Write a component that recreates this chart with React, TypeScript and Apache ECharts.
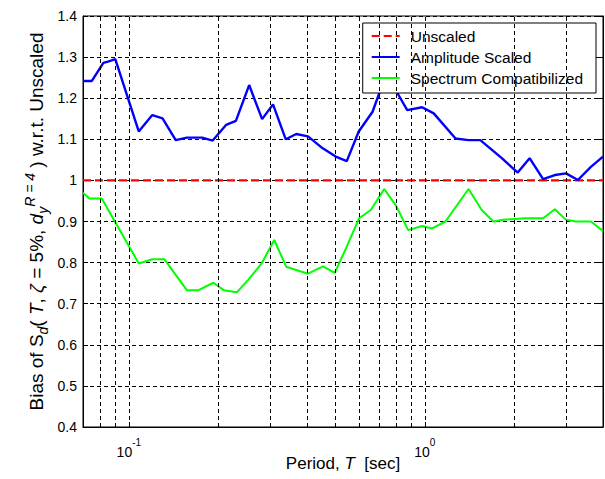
import React, { useEffect, useRef } from 'react';
import * as echarts from 'echarts';

const FONT = "'Liberation Sans', Arial, Helvetica, sans-serif";

// Period grid (vertical dotted lines of the log axis)
const periodGridLines = [0.08, 0.09, 0.1, 0.2, 0.3, 0.4, 0.5, 0.6, 0.7, 0.8, 0.9, 1, 2, 3];

// Unscaled reference
const unscaledPeriods = [0.07, 4];
const unscaledBias = [1, 1];

// Amplitude scaled
const amplitudePeriods = [0.07, 0.075, 0.082, 0.085, 0.09, 0.108, 0.12, 0.13, 0.144, 0.157, 0.177, 0.192, 0.213, 0.23, 0.255, 0.282, 0.307, 0.339, 0.368, 0.403, 0.452, 0.5, 0.545, 0.598, 0.666, 0.729, 0.797, 0.872, 0.979, 1.072, 1.27, 1.405, 1.54, 1.82, 2.06, 2.26, 2.51, 2.75, 3.0, 3.29, 3.64, 4.0];
const amplitudeBias = [1.242, 1.242, 1.286, 1.289, 1.295, 1.119, 1.159, 1.151, 1.098, 1.104, 1.104, 1.097, 1.135, 1.145, 1.232, 1.149, 1.185, 1.1, 1.113, 1.107, 1.078, 1.058, 1.047, 1.119, 1.167, 1.245, 1.22, 1.171, 1.178, 1.163, 1.102, 1.098, 1.098, 1.054, 1.019, 1.054, 1.003, 1.013, 1.017, 1.001, 1.033, 1.058];

// Spectrum compatibilized
const compatPeriods = [0.07, 0.0736, 0.081, 0.108, 0.12, 0.132, 0.144, 0.157, 0.172, 0.193, 0.209, 0.232, 0.253, 0.281, 0.31, 0.34, 0.403, 0.453, 0.496, 0.542, 0.6, 0.657, 0.729, 0.797, 0.879, 0.979, 1.058, 1.174, 1.405, 1.557, 1.704, 1.841, 2.177, 2.51, 2.75, 3.0, 3.244, 3.64, 4.0];
const compatBias = [0.970, 0.956, 0.956, 0.798, 0.808, 0.808, 0.770, 0.733, 0.733, 0.751, 0.733, 0.728, 0.758, 0.798, 0.855, 0.790, 0.773, 0.791, 0.775, 0.835, 0.908, 0.928, 0.979, 0.940, 0.879, 0.889, 0.883, 0.900, 0.979, 0.928, 0.900, 0.904, 0.908, 0.908, 0.930, 0.904, 0.900, 0.900, 0.877];

const yTicks = { min: 0.4, max: 1.4, interval: 0.1 };

const zip = (xs: number[], ys: number[]) => xs.map((x, i) => [x, ys[i]]);

export default function App() {
  const ref = useRef<HTMLDivElement>(null);
  useEffect(() => {
    const chart = echarts.init(ref.current!, null, { renderer: 'svg' });
    const option: any = {
      animation: false,
      backgroundColor: '#fff',
      textStyle: { fontFamily: FONT },
      grid: {
        left: 83, right: 2, top: 16, bottom: 52,
        outerBoundsMode: 'none',
        containLabel: false,
        show: true, borderColor: '#000', borderWidth: 1, backgroundColor: '#fff',
      },
      legend: {
        data: ['Unscaled', 'Amplitude Scaled', 'Spectrum Compatibilized'],
        orient: 'vertical',
        right: 9,
        top: 23,
        padding: [5, 13, 7, 8],
        itemWidth: 28,
        itemHeight: 14,
        itemGap: 5,
        borderColor: '#000',
        borderWidth: 1,
        borderRadius: 0,
        backgroundColor: '#fff',
        selectedMode: false,
        itemStyle: { opacity: 0, borderWidth: 0 },
        textStyle: { fontFamily: FONT, fontSize: 15.5, color: '#000', padding: [0, 0, 0, 6] },
      },
      xAxis: [{
        type: 'log',
        logBase: 10,
        min: 0.07,
        max: 4,
        axisLine: { lineStyle: { color: '#000', width: 1 } },
        axisTick: { inside: true, length: 5, lineStyle: { color: '#000' } },
        splitLine: { show: false },
        axisLabel: {
          margin: 10,
          color: '#000',
          showMinLabel: false,
          showMaxLabel: false,
          formatter: (v: number) => {
            const e = Math.log10(v);
            if (Math.abs(e - Math.round(e)) > 1e-6) return '';
            return '{b|10}{s|' + Math.round(e) + '}';
          },
          rich: {
            b: { fontSize: 14, fontFamily: FONT, color: '#000', lineHeight: 22, verticalAlign: 'bottom' },
            s: { fontSize: 10, fontFamily: FONT, color: '#000', lineHeight: 8, verticalAlign: 'top' },
          },
        },
        name: '{n|Period, }{i|T}{n|  [sec]}',
        nameLocation: 'middle',
        nameGap: 28,
        nameMoveOverlap: false,
        nameTextStyle: {
          rich: {
            n: { fontSize: 17, fontFamily: FONT, color: '#000' },
            i: { fontSize: 17, fontFamily: FONT, color: '#000', fontStyle: 'italic' },
          },
        },
      }],
      yAxis: [{
        type: 'value',
        ...yTicks,
        axisLine: { show: true, lineStyle: { color: '#000' } },
        axisTick: { inside: true, length: 5, lineStyle: { color: '#000' } },
        axisLabel: {
          margin: 6,
          color: '#000',
          fontSize: 14,
          fontFamily: FONT,
          formatter: (v: number) => String(Number(v.toFixed(1))),
        },
        splitLine: { show: true, lineStyle: { color: '#000', type: [4, 3], width: 1 } },
        name: '{n|Bias of S}{isub|d}{n|( }{i|T}{n|, }{i|ζ}{n| = 5%, }{i|d}{isub|y}{sup|R = 4}{n| ) w.r.t. Unscaled}',
        nameLocation: 'middle',
        nameRotate: 90,
        nameGap: 33,
        nameMoveOverlap: false,
        nameTextStyle: {
          rich: {
            n: { fontSize: 19, fontFamily: FONT, color: '#000', lineHeight: 27 },
            i: { fontSize: 19, fontFamily: FONT, color: '#000', fontStyle: 'italic', lineHeight: 27 },
            isub: { fontSize: 14, fontFamily: FONT, color: '#000', fontStyle: 'italic', lineHeight: 14, verticalAlign: 'bottom' },
            sup: { fontSize: 14, fontFamily: FONT, color: '#000', fontStyle: 'italic', lineHeight: 14, verticalAlign: 'top' },
          },
        },
      }, {
        type: 'value',
        position: 'right',
        ...yTicks,
        axisLine: { show: true, lineStyle: { color: '#000' } },
        axisTick: { inside: true, length: 5, lineStyle: { color: '#000' } },
        axisLabel: { show: false },
        splitLine: { show: false },
      }],
      series: [
        {
          name: 'grid',
          type: 'line',
          data: [[0.07, 1]],
          symbol: 'none',
          lineStyle: { opacity: 0 },
          silent: true,
          z: 1,
          markLine: {
            silent: true,
            animation: false,
            symbol: ['none', 'none'],
            label: { show: false },
            lineStyle: { color: '#000', type: [4, 3], width: 1 },
            data: periodGridLines.map((v) => ({ xAxis: v })),
          },
        },
        {
          name: 'Unscaled',
          type: 'line',
          data: zip(unscaledPeriods, unscaledBias),
          symbol: 'none',
          lineStyle: { color: '#ff0000', width: 2.2, type: [8, 4] },
          itemStyle: { color: '#ff0000' },
          z: 3,
        },
        {
          name: 'Amplitude Scaled',
          type: 'line',
          data: zip(amplitudePeriods, amplitudeBias),
          symbol: 'none',
          lineStyle: { color: '#0000ff', width: 2.4 },
          itemStyle: { color: '#0000ff' },
          z: 3,
        },
        {
          name: 'Spectrum Compatibilized',
          type: 'line',
          data: zip(compatPeriods, compatBias),
          symbol: 'none',
          lineStyle: { color: '#00ff00', width: 2 },
          itemStyle: { color: '#00ff00' },
          z: 3,
        },
      ],
    };
    chart.setOption(option);
    return () => chart.dispose();
  }, []);
  return <div ref={ref} style={{ position: 'fixed', left: 0, top: 0, width: 605, height: 479, background: '#fff' }} />;
}
